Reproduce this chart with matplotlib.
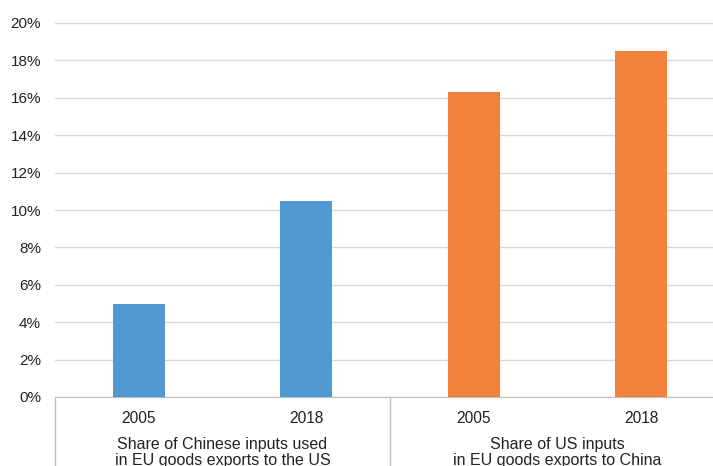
import matplotlib.pyplot as plt
from matplotlib.lines import Line2D
from matplotlib.ticker import FuncFormatter

plt.rcParams['font.family'] = ['Liberation Sans', 'DejaVu Sans']

# data (share, %)
years = ["2005", "2018", "2005", "2018"]
values = [5.0, 10.5, 16.3, 18.5]
bar_colors = ["#5099d3", "#5099d3", "#f2823b", "#f2823b"]
groups = ["Share of Chinese inputs used\nin EU goods exports to the US",
          "Share of US inputs\nin EU goods exports to China"]

W, H = 713, 466
fig = plt.figure(figsize=(W / 100, H / 100), dpi=100)
# plot area runs a little past the right edge of the picture (cropped)
x0, x1, y0, y1 = 55, 725, 397, 23
ax = fig.add_axes([x0 / W, (H - y0) / H, (x1 - x0) / W, (y0 - y1) / H])

x = list(range(len(values)))
ax.bar(x, values, width=0.31, color=bar_colors, zorder=3)

ax.set_xlim(-0.5, 3.5)
ax.set_ylim(0, 20)
ax.set_yticks(range(0, 21, 2))
ax.yaxis.set_major_formatter(FuncFormatter(lambda v, p: f"{v:.0f}%"))
ax.grid(axis="y", color="#d9d9d9", linewidth=1, zorder=0)
ax.tick_params(axis="y", length=0, pad=10, labelsize=11, labelcolor="#222222")
ax.tick_params(axis="x", length=0, pad=10, labelsize=11.2, labelcolor="#222222")
ax.set_xticks(x)
ax.set_xticklabels(years)

for s in ["top", "right", "left"]:
    ax.spines[s].set_visible(False)
ax.spines["bottom"].set_color("#bfbfbf")

# group separators under the category axis
for xs in [-0.5, 1.5, 3.5]:
    ax.add_line(Line2D([xs, xs], [0, -0.3], transform=ax.get_xaxis_transform(),
                       color="#bfbfbf", linewidth=1, clip_on=False))

# group labels (bottom line is cropped in the original)
for i, g in enumerate(groups):
    ax.text(2 * i + 0.5, -40 / (y0 - y1), g, transform=ax.get_xaxis_transform(),
            ha="center", va="top", fontsize=11.5, color="#222222", linespacing=1.12)

fig.savefig("out.png", dpi=100)
